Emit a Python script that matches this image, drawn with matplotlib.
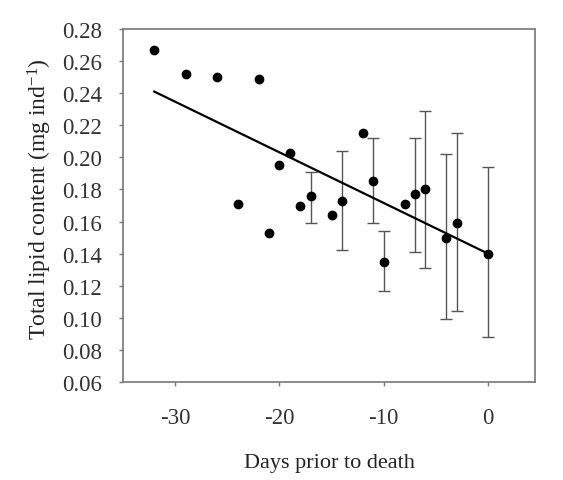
import matplotlib.pyplot as plt

plt.rcParams['font.family'] = ['Liberation Serif', 'DejaVu Serif']
plt.rcParams['axes.unicode_minus'] = False
plt.rcParams['mathtext.fontset'] = 'custom'
plt.rcParams['mathtext.rm'] = 'Liberation Serif'
plt.rcParams['mathtext.default'] = 'rm'

# days prior to death and mean lipid content (mg ind-1)
days = [-32, -29, -26, -24, -22, -21, -20, -19, -18, -17, -15, -14, -12,
        -11, -10, -8, -7, -6, -4, -3, 0]
lipid = [0.267, 0.252, 0.250, 0.171, 0.249, 0.153, 0.195, 0.203, 0.170,
         0.176, 0.164, 0.173, 0.215, 0.185, 0.135, 0.171, 0.177, 0.180,
         0.150, 0.159, 0.140]

# error bars (only some days have them)
err_days = [-17, -14, -11, -10, -7, -6, -4, -3, 0]
err_mean = [0.176, 0.173, 0.185, 0.135, 0.177, 0.180, 0.150, 0.159, 0.140]
err_low = [0.159, 0.142, 0.159, 0.117, 0.141, 0.131, 0.099, 0.104, 0.088]
err_high = [0.191, 0.204, 0.212, 0.154, 0.212, 0.229, 0.202, 0.215, 0.194]

# regression line endpoints
fit_x = [-32, 0]
fit_y = [0.241, 0.140]

fig = plt.figure(figsize=(5.63, 4.81), dpi=100)
ax = fig.add_axes([0.2185, 0.2037, 0.7318, 0.7339])

yerr = [[m - lo for m, lo in zip(err_mean, err_low)],
        [hi - m for m, hi in zip(err_mean, err_high)]]
ax.errorbar(err_days, err_mean, yerr=yerr, fmt='none', ecolor='#555555',
            elinewidth=1.0, capsize=4, capthick=1.0, zorder=1)
ax.plot(fit_x, fit_y, color='black', lw=1.6, zorder=2)
ax.plot(days, lipid, 'o', color='black', markersize=6, zorder=3)

ax.set_xlim(-35, 4.5)
ax.set_ylim(0.06, 0.28)
ax.set_xticks([-30, -20, -10, 0])
ax.set_yticks([0.06 + 0.02 * i for i in range(12)])
ax.set_yticklabels(['%.2f' % (0.06 + 0.02 * i) for i in range(12)])

for s in ax.spines.values():
    s.set_color('#777777')
    s.set_linewidth(1.2)
ax.tick_params(direction='out', length=3, width=1, color='#777777',
               labelsize=16.5, labelcolor='#333333')
ax.tick_params(axis='y', pad=12)
ax.tick_params(axis='x', pad=15)

ax.set_xlabel('Days prior to death', fontsize=16, color='#222222', labelpad=18)
ax.set_ylabel('Total lipid content (mg ind$^{-1}$)', fontsize=17,
              color='#222222', labelpad=6)
ax.yaxis.label.set_y(0.52)

fig.savefig('out.png', dpi=100)
